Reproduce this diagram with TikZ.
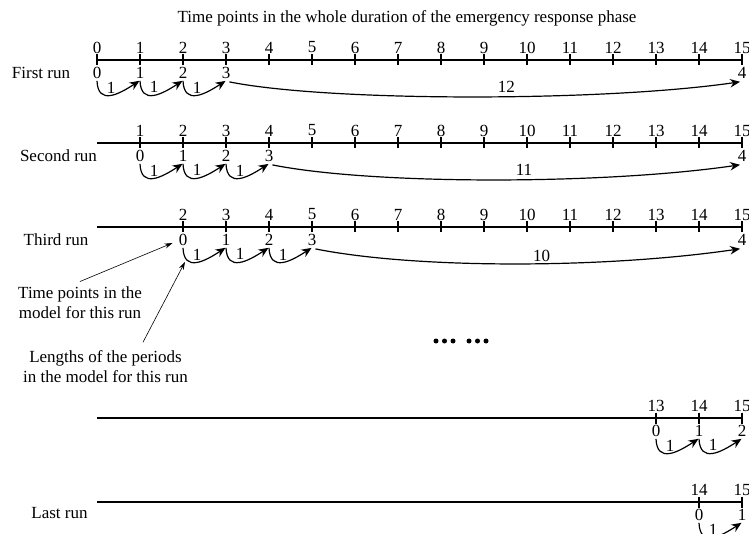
\documentclass[tikz,border=0pt]{standalone}
\usepackage{fontspec}
\setmainfont{Liberation Serif}
\usetikzlibrary{arrows.meta}

% x position of time point #1 on every axis
\newcommand\tx[1]{97+43*(#1)}

% axis of one run: #1 name, #2 axis y, #3 first time point shown
\newcommand\runaxis[3]{%
  \draw[axisline] (97,#2) -- (742,#2);
  \foreach \t in {#3,...,15} {
    \draw[tickmark] ({\tx{\t}},{#2-5.5}) -- ({\tx{\t}},{#2+5.5});
    \node[lbl] (#1u\t) at ({\tx{\t}},{#2-12.5}) {\t};
  }%
}

% model time points and unit periods: #1 name, #2 axis y, #3 first point, #4 unit periods
\newcommand\runsteps[4]{%
  \foreach \k in {0,...,#4}
    \node[lbl] (#1d\k) at ({\tx{#3+\k}},{#2+13}) {\k};
  \foreach \n in {1,...,#4} {
    \pgfmathtruncatemacro\k{\n-1}
    \draw[hop] ([shift={(0,2)}]#1d\k.south) .. controls +(1,25) and +(-20,13) ..
      ([shift={(-0.5,2)}]#1d\n.south)
      node[lbl,pos=0.5,anchor=south,yshift=1.5pt] {1};
  }%
}

% last long period up to time point 15: #1 name, #2 axis y, #3 length, #4 label lift
\newcommand\runspan[4]{%
  \node[lbl] (#1d4) at ({\tx{15}},{#2+13}) {4};
  \draw[hop] ([shift={(-1,3)}]#1d3.south east) .. controls +(100,20) and +(-137,20) ..
    ([shift={(2.5,3)}]#1d4.south west)
    node[lbl,pos=0.56,anchor=south,yshift=#4] {#3};
}

\begin{document}
\begin{tikzpicture}[x=1pt,y=-1pt,
  lbl/.style={font=\fontsize{17}{20}\selectfont, inner sep=0pt},
  axisline/.style={line width=1.1pt},
  tickmark/.style={line width=1.1pt},
  hop/.style={line width=1.2pt, -{Stealth[length=10pt,width=8.5pt]}},
  pointer/.style={line width=0.6pt, -{Stealth[length=8pt,width=5pt]}},
]
\useasboundingbox (0,0) rectangle (749,534);

\node[lbl] (title) at (407,18) {Time points in the whole duration of the emergency response phase};

% first run
\runaxis{r1}{60}{0}
\runsteps{r1}{60}{0}{3}
\runspan{r1}{60}{12}{4pt}
\node[lbl] (run1) at (41,73) {First run};

% second run
\runaxis{r2}{143}{1}
\runsteps{r2}{143}{1}{3}
\runspan{r2}{143}{11}{4pt}
\node[lbl] (run2) at (58.5,156) {Second run};

% third run
\runaxis{r3}{227}{2}
\runsteps{r3}{227}{2}{3}
\runspan{r3}{227}{10}{1pt}
\node[lbl] (run3) at (56,240) {Third run};

% notes on the third run
\node[lbl,align=center] (tpnote) at (80,302.7) {Time points in the\\model for this run};
\draw[pointer] ([shift={(0,-5)}]tpnote.north) -- ([shift={(-6,3)}]r3d0.west);
\node[lbl,align=center] (lennote) at (105.5,366.5) {Lengths of the periods\\in the model for this run};
\draw[pointer] ([shift={(37.5,-8)}]lennote.north) -- ([shift={(2,16)}]r3d0.south);

% omitted runs
\foreach \dx in {436,444.5,453,469,477.5,486}
  \fill (\dx,341) circle (2.5);

% second to last run
\runaxis{r4}{418}{13}
\runsteps{r4}{418}{13}{2}

% last run
\runaxis{r5}{502}{14}
\runsteps{r5}{502}{14}{1}
\node[lbl] (run5) at (59.5,513) {Last run};
\end{tikzpicture}
\end{document}
